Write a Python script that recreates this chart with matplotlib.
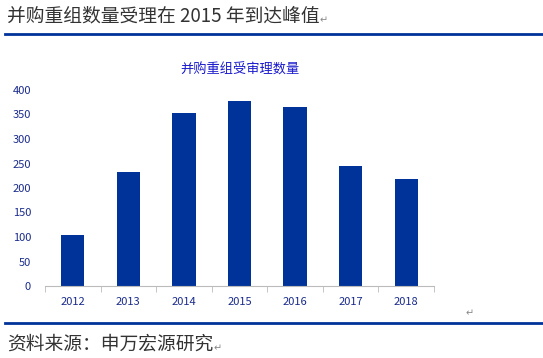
import numpy as np
import matplotlib.pyplot as plt
from matplotlib.lines import Line2D

plt.rcParams['font.family'] = ['Noto Sans CJK SC', 'DejaVu Sans']

years = ['2012', '2013', '2014', '2015', '2016', '2017', '2018']
counts = [104, 233, 353, 378, 365, 245, 218]
yticks = [0, 50, 100, 150, 200, 250, 300, 350, 400]

W, H = 543, 358
fig = plt.figure(figsize=(W / 100, H / 100), dpi=100)
ax = fig.add_axes([45 / W, 72 / H, 389 / W, 196 / H])

# header and footer
head = fig.text(7 / W, 1 - 16 / H, '并购重组数量受理在 2015 年到达峰值', fontsize=13.5,
                color='#333333', va='center', ha='left')
ax.annotate('↵', xy=(1, 0.3), xycoords=head, fontsize=7, color='#888888',
            va='center', ha='left', annotation_clip=False)
fig.add_artist(Line2D([5 / W, 1], [1 - 34 / H, 1 - 34 / H], color='#003399', lw=2))
fig.add_artist(Line2D([5 / W, 1], [1 - 323 / H, 1 - 323 / H], color='#003399', lw=2))
foot = fig.text(7 / W, 1 - 344 / H, '资料来源：申万宏源研究', fontsize=13.5,
                color='#333333', va='center', ha='left')
ax.annotate('↵', xy=(1, 0.3), xycoords=foot, fontsize=7, color='#888888',
            va='center', ha='left', annotation_clip=False)
fig.text(466 / W, 1 - 313 / H, '↵', fontsize=7, color='#888888', va='center')

x = np.arange(len(years))
ax.bar(x, counts, width=0.42, color='#003399')
ax.set_xlim(-0.5, len(years) - 0.5)
ax.set_ylim(0, 400)
ax.set_yticks(yticks)
ax.set_yticklabels([str(v) for v in yticks], fontsize=8, color='#1a2b8c')
ax.set_xticks(x)
ax.set_xticklabels(years, fontsize=8, color='#1a2b8c')
ax.set_xticks(np.arange(-0.5, len(years), 1), minor=True)
ax.tick_params(axis='x', which='major', length=0, pad=8)
ax.tick_params(axis='x', which='minor', length=4, color='#bbbbbb', direction='out')
ax.tick_params(axis='y', length=0, pad=10)
for s in ['top', 'right', 'left']:
    ax.spines[s].set_visible(False)
ax.spines['bottom'].set_color('#bbbbbb')
ax.set_title('并购重组受审理数量', fontsize=9.5, color='#1a1acc', pad=12)

fig.savefig('out.png', dpi=100)
